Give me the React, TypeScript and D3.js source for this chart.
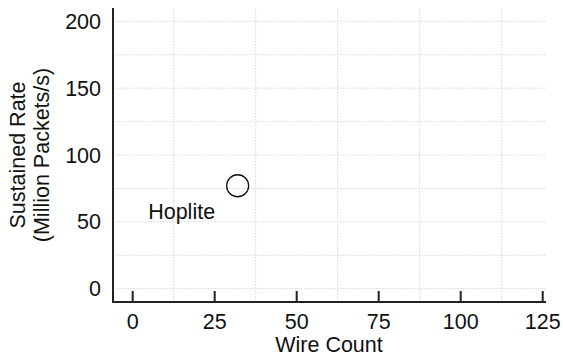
import { useEffect, useRef } from 'react';
import * as d3 from 'd3';

// data
const points = [{ name: 'Hoplite', wires: 32, rate: 77 }];
const xTicks = [0, 25, 50, 75, 100, 125];
const xGrid = [12.5, 37.5, 62.5, 87.5, 112.5];
const yTicks = [0, 50, 100, 150, 200];
const yGrid = [0, 25, 50, 75, 100, 125, 150, 175, 200];

const width = 563;
const height = 357;
const font = 'Liberation Sans, Arial, Helvetica, sans-serif';
const fs = '21.5px';

export default function App() {
  const svgRef = useRef<SVGSVGElement>(null);

  useEffect(() => {
    if (!svgRef.current) return;
    const svg = d3.select(svgRef.current);
    svg.selectAll('*').remove();

    const left = 113;
    const right = 545;
    const top = 8;
    const bottom = 302;

    const x = d3.scaleLinear().domain([-6, 125.7]).range([left, right]);
    const y = d3.scaleLinear().domain([-10, 210]).range([bottom, top]);

    const g = svg.append('g');

    // --- grid ---
    g.selectAll('.hgrid')
      .data(yGrid)
      .enter()
      .append('line')
      .attr('x1', left + 2)
      .attr('x2', right)
      .attr('y1', (d) => y(d))
      .attr('y2', (d) => y(d))
      .attr('stroke', '#d6d6d6')
      .attr('stroke-width', 1)
      .attr('stroke-dasharray', '1.5,1.5');

    g.selectAll('.vgrid')
      .data(xGrid)
      .enter()
      .append('line')
      .attr('x1', (d) => x(d))
      .attr('x2', (d) => x(d))
      .attr('y1', top)
      .attr('y2', bottom - 1)
      .attr('stroke', '#d6d6d6')
      .attr('stroke-width', 1)
      .attr('stroke-dasharray', '1.5,1.5');

    // --- axes ---
    g.append('line')
      .attr('x1', left)
      .attr('x2', left)
      .attr('y1', top)
      .attr('y2', bottom + 1)
      .attr('stroke', '#222')
      .attr('stroke-width', 2);
    g.append('line')
      .attr('x1', left)
      .attr('x2', right + 1)
      .attr('y1', bottom)
      .attr('y2', bottom)
      .attr('stroke', '#222')
      .attr('stroke-width', 2);

    // x ticks point inward
    g.selectAll('.xtick')
      .data(xTicks)
      .enter()
      .append('line')
      .attr('x1', (d) => x(d))
      .attr('x2', (d) => x(d))
      .attr('y1', bottom)
      .attr('y2', bottom - 11)
      .attr('stroke', '#222')
      .attr('stroke-width', 2);

    g.selectAll('.xlabel')
      .data(xTicks)
      .enter()
      .append('text')
      .attr('x', (d) => x(d))
      .attr('y', 329)
      .attr('text-anchor', 'middle')
      .attr('font-family', font)
      .attr('font-size', fs)
      .attr('fill', '#111')
      .text((d) => `${d}`);

    g.selectAll('.ylabel')
      .data(yTicks)
      .enter()
      .append('text')
      .attr('x', 101)
      .attr('y', (d) => y(d))
      .attr('dy', '0.35em')
      .attr('text-anchor', 'end')
      .attr('font-family', font)
      .attr('font-size', fs)
      .attr('fill', '#111')
      .text((d) => `${d}`);

    // axis titles
    svg
      .append('text')
      .attr('x', (left + right) / 2)
      .attr('y', 352)
      .attr('text-anchor', 'middle')
      .attr('font-family', font)
      .attr('font-size', fs)
      .attr('fill', '#111')
      .text('Wire Count');

    const yt = svg
      .append('text')
      .attr('transform', `translate(0, ${(top + bottom) / 2}) rotate(-90)`)
      .attr('text-anchor', 'middle')
      .attr('font-family', font)
      .attr('font-size', fs)
      .attr('fill', '#111');
    yt.append('tspan').attr('x', 0).attr('y', 25).text('Sustained Rate');
    yt.append('tspan').attr('x', 0).attr('y', 48.5).text('(Million Packets/s)');

    // --- points ---
    g.selectAll('.pt')
      .data(points)
      .enter()
      .append('circle')
      .attr('cx', (d) => x(d.wires))
      .attr('cy', (d) => y(d.rate))
      .attr('r', 11)
      .attr('fill', 'none')
      .attr('stroke', '#111')
      .attr('stroke-width', 1.3);

    g.selectAll('.pt-label')
      .data(points)
      .enter()
      .append('text')
      .attr('x', (d) => x(d.wires) - 56)
      .attr('y', (d) => y(d.rate) + 33)
      .attr('text-anchor', 'middle')
      .attr('font-family', font)
      .attr('font-size', fs)
      .attr('fill', '#111')
      .text((d) => d.name);
  }, []);

  return (
    <svg
      ref={svgRef}
      width={width}
      height={height}
      style={{ position: 'absolute', left: 0, top: 0, background: '#fff' }}
    />
  );
}
